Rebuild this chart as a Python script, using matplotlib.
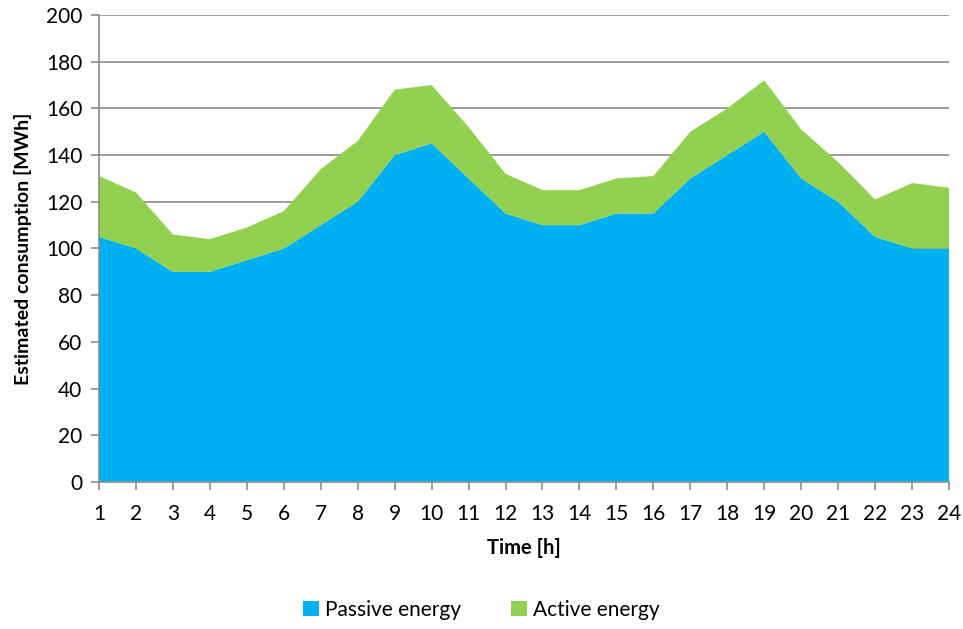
import matplotlib.pyplot as plt
import numpy as np

plt.rcParams['font.family'] = ['Lato', 'DejaVu Sans']

# hourly data, MWh
hours = list(range(1, 25))
passive = [105, 100, 90, 90, 95, 100, 110, 120, 140, 145, 130, 115,
           110, 110, 115, 115, 130, 140, 150, 130, 120, 105, 100, 100]
active = [26, 24, 16, 14, 14, 16, 24, 26, 28, 25, 22, 17,
          15, 15, 15, 16, 20, 20, 22, 21, 17, 16, 28, 26]

fig = plt.figure(figsize=(9.63, 6.29), dpi=100)
ax = fig.add_axes([0.1028, 0.2337, 0.8827, 0.7425])

ax.stackplot(hours, passive, active, colors=['#00B0F0', '#92D050'],
             labels=['Passive energy', 'Active energy'], linewidth=0)

ax.set_xlim(1, 24)
ax.set_ylim(0, 200)
ax.set_xticks(hours)
ax.set_yticks(np.arange(0, 201, 20))
ax.grid(axis='y', color='#8c8c8c', linewidth=1.2)
ax.set_axisbelow(True)

for s in ['top', 'right']:
    ax.spines[s].set_visible(False)
for s in ['left', 'bottom']:
    ax.spines[s].set_color('#8c8c8c')
    ax.spines[s].set_linewidth(1.2)
ax.tick_params(colors='#8c8c8c', labelcolor='black', labelsize=15,
               length=6, width=1.2, direction='out')
ax.tick_params(axis='x', pad=10)
ax.tick_params(axis='y', pad=6)

ax.set_xlabel('Time [h]', fontsize=14.5, fontweight='bold', labelpad=10)
ax.set_ylabel('Estimated consumption [MWh]', fontsize=14, fontweight='bold', labelpad=10)

fig.legend(loc='lower center', bbox_to_anchor=(0.5, -0.005), ncol=2, frameon=False,
           fontsize=15, handlelength=0.75, handleheight=0.75, handletextpad=0.3,
           columnspacing=2.4, borderaxespad=0.2)

fig.savefig('out.png', dpi=100)
